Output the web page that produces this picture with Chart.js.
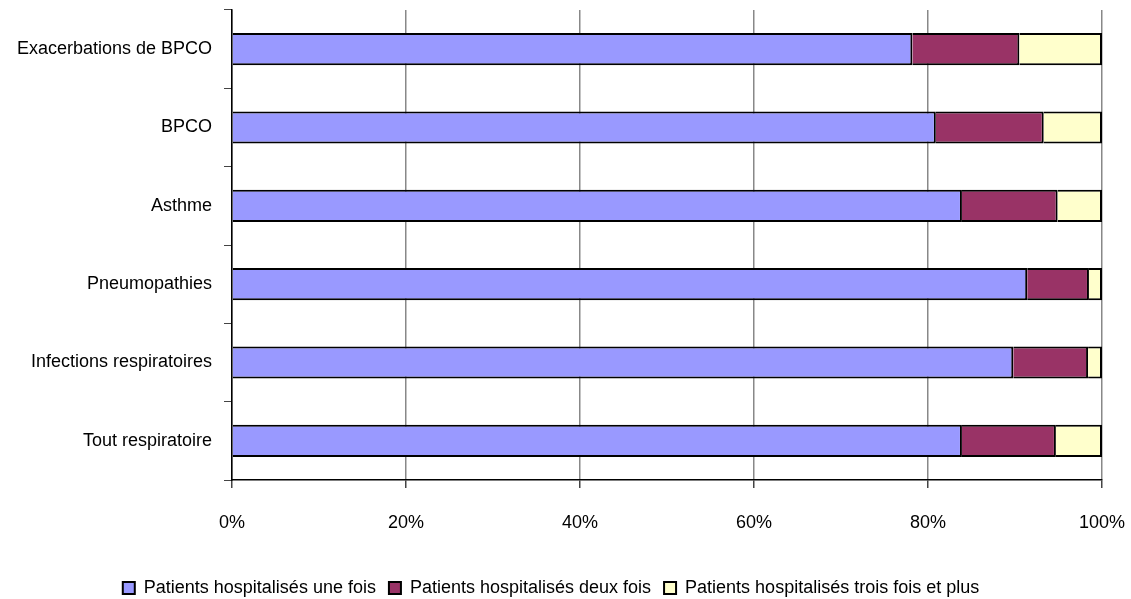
<!DOCTYPE html>
<html>
<head>
<meta charset="utf-8">
<script src="https://cdn.jsdelivr.net/npm/chart.js@4"></script>
<style>
  body { margin: 0; background: #fff; }
</style>
</head>
<body>
<canvas id="barChart" width="1131" height="599"></canvas>
<script>
// Répartition des patients selon le nombre d'hospitalisations (%)
var categories = ['Exacerbations de BPCO', 'BPCO', 'Asthme', 'Pneumopathies', 'Infections respiratoires', 'Tout respiratoire'];
var uneFois = [78.2, 80.9, 83.9, 91.4, 89.8, 83.9];
var deuxFois = [12.3, 12.4, 11.0, 7.1, 8.6, 10.8];
var troisFoisEtPlus = [9.5, 6.7, 5.1, 1.5, 1.6, 5.3];
var xTicks = [0, 20, 40, 60, 80, 100];

Chart.defaults.font.family = '"Liberation Sans", Arial, sans-serif';
Chart.defaults.font.size = 18;
Chart.defaults.color = '#111';

var ctx = document.getElementById('barChart').getContext('2d');
var barChart = new Chart(ctx, {
    type: 'bar',
    data: {
        labels: categories,
        datasets: [{
            label: 'Patients hospitalisés une fois',
            data: uneFois,
            backgroundColor: '#9999ff'
        }, {
            label: 'Patients hospitalisés deux fois',
            data: deuxFois,
            backgroundColor: '#993366'
        }, {
            label: 'Patients hospitalisés trois fois et plus',
            data: troisFoisEtPlus,
            backgroundColor: '#ffffcc'
        }]
    },
    options: {
        indexAxis: 'y',
        responsive: false,
        animation: false,
        layout: {
            padding: { top: 10, right: 29, left: 0, bottom: -8 }
        },
        datasets: {
            bar: {
                borderColor: '#000',
                borderWidth: 2,
                barPercentage: 0.41,
                categoryPercentage: 1
            }
        },
        plugins: {
            legend: {
                position: 'bottom',
                labels: {
                    boxWidth: 12,
                    boxHeight: 12,
                    padding: 13,
                    color: '#000'
                }
            },
            tooltip: { enabled: false }
        },
        scales: {
            x: {
                stacked: true,
                min: 0,
                max: 100,
                afterBuildTicks: function (scale) {
                    scale.ticks = xTicks.map(function (v) { return { value: v }; });
                },
                afterFit: function (scale) {
                    scale.height = 86;
                    scale.paddingLeft = 0;
                    scale.paddingRight = 0;
                },
                ticks: {
                    padding: 24,
                    color: '#000',
                    callback: function (v) { return v + '%'; }
                },
                grid: {
                    color: '#888',
                    lineWidth: 1.5,
                    tickLength: 8,
                    tickColor: '#444'
                },
                border: { color: '#000', width: 1.5 }
            },
            y: {
                stacked: true,
                afterFit: function (scale) {
                    scale.width = 232;
                    scale.paddingTop = 0;
                    scale.paddingBottom = 0;
                },
                ticks: {
                    padding: 12,
                    color: '#000'
                },
                grid: {
                    offset: true,
                    drawOnChartArea: false,
                    tickLength: 8,
                    tickColor: '#444'
                },
                border: { color: '#000', width: 1.5 }
            }
        }
    }
});
</script>
</body>
</html>
